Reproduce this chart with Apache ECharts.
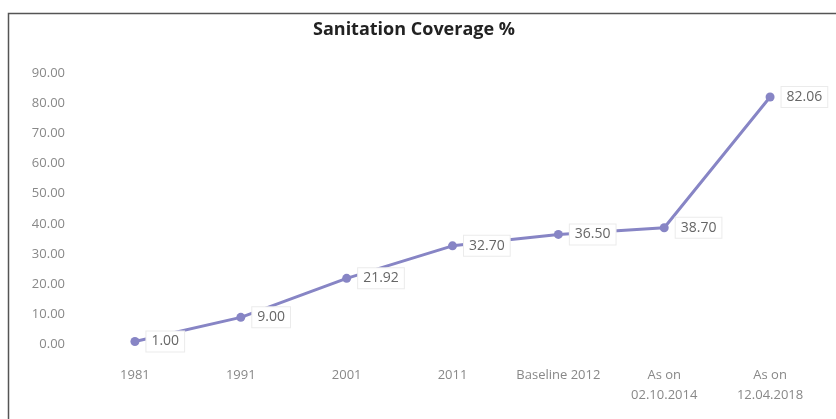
<!DOCTYPE html>
<html><head><meta charset="utf-8">
<script src="https://cdn.jsdelivr.net/npm/echarts@6/dist/echarts.min.js"></script>
<style>html,body{margin:0;padding:0;background:#fff}#c{width:836px;height:419px}</style>
</head><body><div id="c"></div>
<script>
const categories = ['1981','1991','2001','2011','Baseline 2012','As on\n02.10.2014','As on\n12.04.2018'];
const coverage = [1.00, 9.00, 21.92, 32.70, 36.50, 38.70, 82.06];
const yTicks = {min:0, max:90, interval:10};
const chart = echarts.init(document.getElementById('c'));
chart.setOption({
  animation:false,
  backgroundColor:'#fff',
  title:{text:'Sanitation Coverage %', left:409, top:16, textAlign:'center',
    textStyle:{fontFamily:'Open Sans', fontWeight:'bold', fontSize:18, color:'#222'}},
  graphic:[{type:'rect', shape:{x:8.5,y:13.5,width:900,height:500}, style:{fill:'none', stroke:'#555', lineWidth:1.5}, silent:true}],
  grid:{left:82, right:13, top:73, bottom:74.5},
  xAxis:{type:'category', data:categories, boundaryGap:true,
    axisLine:{show:false}, axisTick:{show:false},
    axisLabel:{interval:0, hideOverlap:false, color:'#888', fontFamily:'Open Sans', fontSize:13, margin:21, lineHeight:20}},
  yAxis:{type:'value', min:yTicks.min, max:yTicks.max, interval:yTicks.interval,
    splitLine:{show:false}, axisLine:{show:false}, axisTick:{show:false},
    axisLabel:{color:'#888', fontFamily:'Open Sans', fontSize:13, margin:17, formatter:v=>v.toFixed(2)}},
  series:[{type:'line', data:coverage, symbol:'circle', symbolSize:9,
    lineStyle:{color:'#8785c5', width:3}, itemStyle:{color:'#8785c5'},
    label:{show:true, position:'right', distance:7, formatter:p=>p.value.toFixed(2),
      color:'#666', fontFamily:'Open Sans', fontSize:14, backgroundColor:'#fff',
      borderColor:'#ebebeb', borderWidth:1, padding:[3,5]}}]
});
</script></body></html>
